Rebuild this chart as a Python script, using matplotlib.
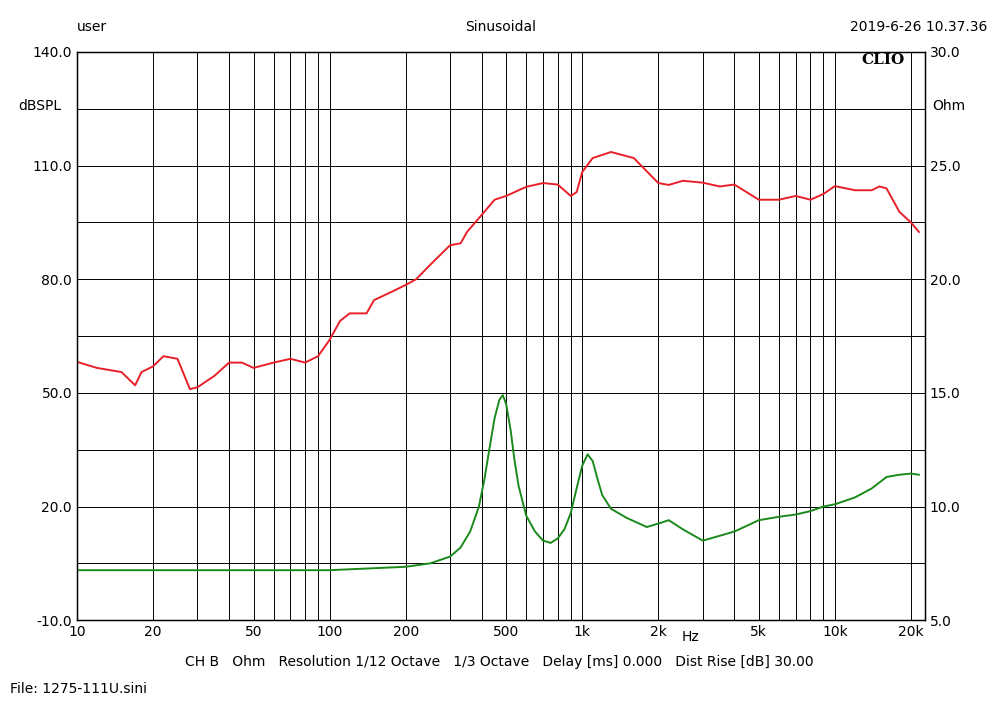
import matplotlib
matplotlib.use("Agg")
import matplotlib.pyplot as plt
import numpy as np

spl_f = [10,12,15,17,18,20,22,25,28,30,35,40,45,50,60,70,80,90,100,110,120,140,150,180,200,220,250,300,330,350,400,450,500,600,700,800,900,950,1000,1100,1300,1600,2000,2200,2500,3000,3500,4000,5000,6000,7000,8000,9000,10000,12000,14000,15000,16000,18000,20000,21500]
spl_db = [58.2,56.6,55.5,52,55.5,57,59.7,59,51,51.5,54.5,58,58,56.6,58,59,58,59.7,64,69,71,71,74.5,77,78.5,80,83.8,89,89.5,92.5,97,101,102,104.4,105.4,105,102,103,108.3,112,113.6,112,105.4,104.9,106,105.5,104.5,105,101,101,102,101,102.5,104.6,103.5,103.5,104.5,104,97.8,95,92.5]
imp_f = [10,100,200,250,300,330,360,390,410,430,450,470,485,500,520,540,560,600,650,700,750,800,850,900,950,1000,1050,1100,1150,1200,1300,1500,1800,2000,2200,2500,3000,4000,5000,6000,7000,8000,9000,10000,12000,14000,16000,18000,20000,21500]
imp_ohm = [7.2,7.2,7.35,7.5,7.8,8.2,8.9,10.0,11.2,12.6,13.9,14.7,14.9,14.5,13.4,12.0,10.9,9.6,8.9,8.5,8.4,8.6,9.0,9.7,10.8,11.8,12.3,12.0,11.2,10.5,9.9,9.5,9.1,9.25,9.4,9.0,8.5,8.9,9.4,9.55,9.65,9.8,10.0,10.1,10.4,10.8,11.3,11.4,11.45,11.4]
xticks = [10,20,50,100,200,500,1000,2000,5000,10000,20000]
xlabels = ["10","20","50","100","200","500","1k","2k","5k","10k","20k"]

fig = plt.figure(figsize=(10.02,7.22), dpi=100)
ax = fig.add_axes([0.0768,0.141,0.8462,0.787])
ax.set_xscale('log')
ax.set_xlim(10,22700)
ax.set_ylim(-10,140)
ax.set_yticks(np.arange(-10,141,30))
ax.set_yticklabels([f"{v:.1f}" for v in np.arange(-10,141,30)])
ax.set_yticks(np.arange(-10,141,15), minor=True)
ax.set_xticks(xticks)
ax.set_xticklabels(xlabels)
ax.xaxis.set_minor_formatter(matplotlib.ticker.NullFormatter())
ax.grid(True, which='both', color='black', lw=0.7)
ax.tick_params(which='both', length=0, labelsize=10)
ax.plot(spl_f, spl_db, color='#e8202a', lw=1.4)
for s in ax.spines.values(): s.set_linewidth(1)
ax2 = ax.twinx()
ax2.set_ylim(5,30)
ax2.set_yticks(np.arange(5,31,5))
ax2.set_yticklabels([f"{v:.1f}" for v in np.arange(5,31,5)])
ax2.tick_params(length=0, labelsize=10)
ax2.plot(imp_f, imp_ohm, color='#1a8a1a', lw=1.4)
ax2.set_xlim(10,22700)

fig.text(0.077,0.957,"user",fontsize=10)
fig.text(0.5,0.957,"Sinusoidal",fontsize=10,ha='center')
fig.text(0.985,0.957,"2019-6-26 10.37.36",fontsize=10,ha='right')
fig.text(0.018,0.847,"dBSPL",fontsize=10)
fig.text(0.93,0.847,"Ohm",fontsize=10)
fig.text(0.903,0.912,"CLIO",fontsize=11,ha='right',family='DejaVu Serif',weight='bold')
fig.text(0.68,0.112,"Hz",fontsize=10)
fig.text(0.185,0.078,"CH B   Ohm   Resolution 1/12 Octave   1/3 Octave   Delay [ms] 0.000   Dist Rise [dB] 30.00",fontsize=10)
fig.text(0.01,0.04,"File: 1275-111U.sini",fontsize=10)
fig.savefig("out.png")
